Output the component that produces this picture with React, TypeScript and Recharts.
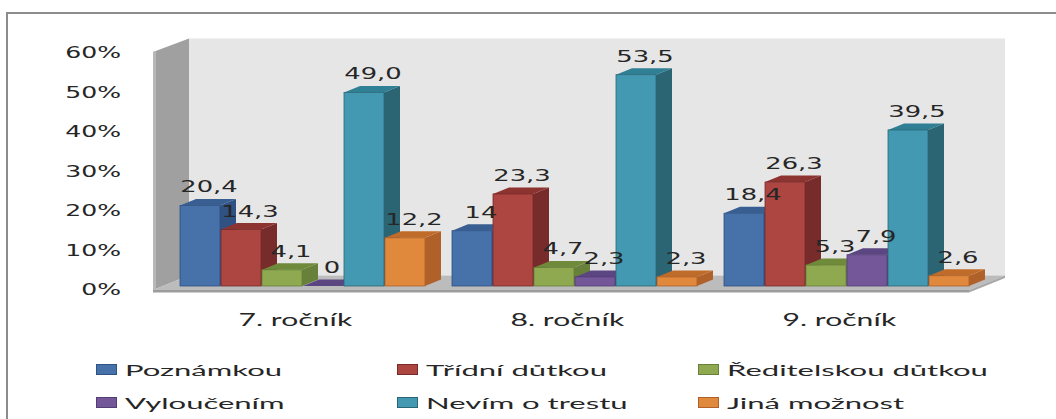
import React from 'react';
import { BarChart, Bar, XAxis, YAxis, Legend, LabelList, ReferenceArea } from 'recharts';

// values as printed on the chart (czech decimal comma)
const categories = ['7. ročník', '8. ročník', '9. ročník'];
const yTicks = [0, 10, 20, 30, 40, 50, 60];

const poznamkou = ['20,4', '14', '18,4'];
const tridniDutkou = ['14,3', '23,3', '26,3'];
const reditelskouDutkou = ['4,1', '4,7', '5,3'];
const vyloucenim = ['0', '2,3', '7,9'];
const nevimOTrestu = ['49,0', '53,5', '39,5'];
const jinaMoznost = ['12,2', '2,3', '2,6'];

const series = [
  { key: 'poznamkou', name: 'Poznámkou', values: poznamkou, front: '#4671a9', top: '#395e91', side: '#2f5283' },
  { key: 'tridni', name: 'Třídní důtkou', values: tridniDutkou, front: '#ad4541', top: '#8d3431', side: '#772b2a' },
  { key: 'reditelskou', name: 'Ředitelskou důtkou', values: reditelskouDutkou, front: '#8ea94f', top: '#6f8a3b', side: '#67813a' },
  { key: 'vyloucenim', name: 'Vyloučením', values: vyloucenim, front: '#735799', top: '#5c4681', side: '#523e75' },
  { key: 'nevim', name: 'Nevím o trestu', values: nevimOTrestu, front: '#4399b1', top: '#2f7f95', side: '#2b6574' },
  { key: 'jina', name: 'Jiná možnost', values: jinaMoznost, front: '#e0883c', top: '#bf6c2b', side: '#b0612a' },
];

const toNum = (s: string) => parseFloat(s.replace(',', '.'));

const data = categories.map((name, i) => {
  const row: Record<string, any> = { name };
  series.forEach((s) => {
    row[s.key] = toNum(s.values[i]);
    row[s.key + 'Label'] = s.values[i];
  });
  return row;
});

const DX = 16;
const DY = 6.5;
const TEXT = '#262626';

function Bar3D(props: any) {
  const { x, y, width: w, height: h, s } = props;
  if (x == null || y == null) return null;
  const pts = (a: number[][]) => a.map((p) => p.join(',')).join(' ');
  return (
    <g>
      <polygon points={pts([[x + w, y], [x + w + DX, y - DY], [x + w + DX, y + h - DY], [x + w, y + h]])} fill={s.side} />
      <polygon points={pts([[x, y], [x + DX, y - DY], [x + w + DX, y - DY], [x + w, y]])} fill={s.top} />
      {h > 0 && <rect x={x} y={y} width={w} height={h} fill={s.front} stroke={s.side} strokeWidth={0.8} />}
    </g>
  );
}

// 3d walls + floor, built around the plot rectangle
function Walls(props: any) {
  const { x, y, width, height } = props;
  const fx = x - 12.5, ft = y + 3, fb = y + height + 4;
  const bx = x + 23.5, bt = y - 10.5, bb = y + height - 10.5;
  const fr = fx + width, br = bx + width;
  return (
    <g>
      <rect x={bx} y={bt} width={width} height={bb - bt} fill="#e6e6e6" />
      <polygon points={`${fx},${ft} ${bx},${bt} ${bx},${bb} ${fx},${fb}`} fill="#a0a0a0" />
      <polygon points={`${fx},${ft} ${fx + 3},${ft - 1} ${fx + 3},${fb} ${fx},${fb}`} fill="#b8b8b8" />
      <polygon points={`${fx},${fb} ${bx},${bb} ${br},${bb} ${fr},${fb}`} fill="#bcbcbc" />
      <rect x={fx} y={fb} width={width} height={2.5} fill="#9c9c9c" />
      <polygon points={`${fr},${fb} ${br},${bb} ${br},${bb + 2.5} ${fr},${fb + 2.5}`} fill="#a8a8a8" />
    </g>
  );
}

function YTick(props: any) {
  const { x, y, payload } = props;
  return (
    <text transform={`translate(${x - 44.5},${y + 4}) scale(1.62,1)`} textAnchor="end" dominantBaseline="central"
      fontFamily="DejaVu Sans" fontSize={15.5} fill={TEXT}>
      {payload.value}%
    </text>
  );
}

function XTick(props: any) {
  const { x, y, payload } = props;
  return (
    <text transform={`translate(${x - 6},${y + 39.5}) scale(1.72,1)`} textAnchor="middle"
      fontFamily="Lato" fontSize={17.5} fill={TEXT}>
      {payload.value}
    </text>
  );
}

function ValueLabel(props: any) {
  const vb = props.viewBox && props.viewBox.width != null ? props.viewBox : props;
  const { x, y, width } = vb;
  if (x == null) return null;
  return (
    <text transform={`translate(${x + width / 2 + 9},${y - 13}) scale(1.72,1)`} textAnchor="middle"
      fontFamily="DejaVu Sans" fontSize={15} fill={TEXT}>
      {props.value}
    </text>
  );
}

function LegendContent() {
  return (
    <div style={{ display: 'grid', gridTemplateColumns: '301px 301px 301px', rowGap: 8, paddingLeft: 96 }}>
      {series.map((s) => (
        <div key={s.key} style={{ display: 'flex', alignItems: 'center', height: 25 }}>
          <div style={{ width: 19, height: 9, background: s.front, border: `1px solid ${s.side}` }} />
          <span style={{ marginLeft: 8, display: 'inline-block', transform: 'scaleX(2)', transformOrigin: 'left center',
            fontFamily: 'Lato', fontSize: 15.5, color: TEXT, whiteSpace: 'nowrap' }}>
            {s.name}
          </span>
        </div>
      ))}
    </div>
  );
}

export default function App() {
  return (
    <div style={{ position: 'absolute', left: 0, top: 0, width: 1056, height: 419, overflow: 'hidden', background: '#fff' }}>
      <div style={{ position: 'absolute', left: 6, top: 12, width: 1200, height: 600, borderLeft: '2px solid #8c8c8c', borderTop: '2px solid #8c8c8c' }} />
      <BarChart width={1056} height={419} data={data} margin={{ top: 49, right: 74.5, bottom: 93, left: 0 }}
        barCategoryGap={14.5} barGap={1}>
        <ReferenceArea y1={0} y2={60} shape={(p: any) => <Walls {...p} />} fill="none" stroke="none" />
        <XAxis dataKey="name" axisLine={false} tickLine={false} tickSize={0} tickMargin={0} height={40}
          tick={(p: any) => <XTick {...p} />} />
        <YAxis domain={[0, 60]} ticks={yTicks} width={165.5} axisLine={false} tickLine={false} tickSize={0} tickMargin={0}
          tick={(p: any) => <YTick {...p} />} />
        <Legend layout="horizontal" verticalAlign="middle" align="center"
          wrapperStyle={{ top: 357, left: 0, width: 1056 }} content={() => <LegendContent />} />
        {series.map((s) => (
          <Bar key={s.key} dataKey={s.key} name={s.name} fill={s.front} isAnimationActive={false}
            shape={(p: any) => <Bar3D {...p} s={s} />}>
            <LabelList dataKey={s.key + 'Label'} content={(p: any) => <ValueLabel {...p} />} />
          </Bar>
        ))}
      </BarChart>
    </div>
  );
}
